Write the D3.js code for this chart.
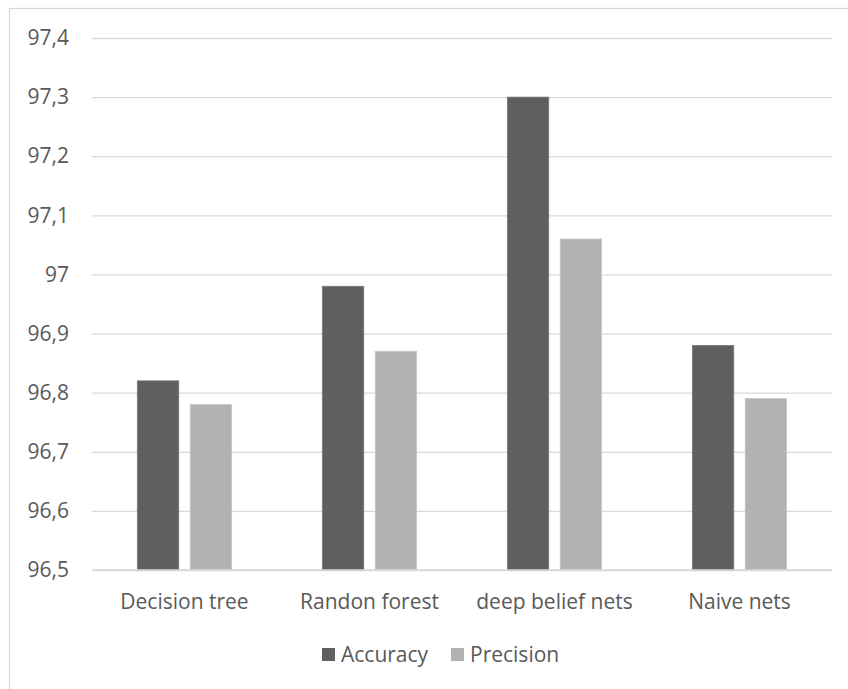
<!DOCTYPE html>
<html>
<head>
<meta charset="utf-8">
<script src="https://cdn.jsdelivr.net/npm/d3@7"></script>
<style>
  body { margin: 0; background: #fff; }
  text { font-family: "Liberation Sans Narrow", "Open Sans", sans-serif; fill: #595959; }
</style>
</head>
<body>
<div id="chart"></div>
<script>
const categories = ["Decision tree", "Randon forest", "deep belief nets", "Naive nets"];
const seriesNames = ["Accuracy", "Precision"];
const accuracy = [96.82, 96.98, 97.3, 96.88];
const precision = [96.78, 96.87, 97.06, 96.79];
const yTicks = [96.5, 96.6, 96.7, 96.8, 96.9, 97, 97.1, 97.2, 97.3, 97.4];
const colors = ["#5f5f5f", "#b2b2b2"];
const strokes = ["#7a7a7a", "#c8c8c8"];

const W = 848, H = 689;
const plotLeft = 92, plotRight = 832, plotTop = 38, plotBottom = 570;

const svg = d3.select("#chart").append("svg")
  .attr("width", W).attr("height", H);

// chart border
svg.append("rect")
  .attr("x", 9.5).attr("y", 8.5)
  .attr("width", W + 10).attr("height", H + 10)
  .attr("fill", "none").attr("stroke", "#d9d9d9").attr("stroke-width", 1.3);

const y = d3.scaleLinear().domain([96.5, 97.4]).range([plotBottom, plotTop]);
const x0 = d3.scaleBand().domain(categories).range([plotLeft, plotRight])
  .paddingInner(0.49).paddingOuter(0.245);
const x1 = d3.scaleBand().domain(seriesNames).range([0, x0.bandwidth()])
  .paddingInner(0.217);

// gridlines + tick labels
const yAxis = svg.append("g")
  .attr("transform", `translate(${plotLeft},0)`)
  .call(d3.axisLeft(y).tickValues(yTicks).tickSize(-(plotRight - plotLeft))
    .tickFormat(d => String(d).replace(".", ",")));
yAxis.select(".domain").remove();
yAxis.selectAll(".tick line").attr("stroke", "#d9d9d9").attr("stroke-width", 1.3);
yAxis.selectAll(".tick text").attr("x", -23).attr("font-size", 21).style("fill", "#595959");

const data = categories.map((c, i) => ({ cat: c, values: [accuracy[i], precision[i]] }));

svg.append("g").selectAll("g")
  .data(data)
  .enter().append("g")
  .attr("transform", d => `translate(${x0(d.cat)},0)`)
  .selectAll("rect")
  .data(d => d.values.map((v, j) => ({ name: seriesNames[j], v, j })))
  .enter().append("rect")
  .attr("x", d => x1(d.name))
  .attr("y", d => y(d.v))
  .attr("width", x1.bandwidth())
  .attr("height", d => y(96.5) - y(d.v))
  .attr("fill", d => colors[d.j])
  .attr("stroke", d => strokes[d.j])
  .attr("stroke-width", 0.8);

// baseline redraw over bars
svg.append("line")
  .attr("x1", plotLeft).attr("x2", plotRight)
  .attr("y1", y(96.5)).attr("y2", y(96.5))
  .attr("stroke", "#d9d9d9").attr("stroke-width", 1.3);

// category labels
const xAxis = svg.append("g")
  .attr("transform", `translate(0,${plotBottom})`)
  .call(d3.axisBottom(x0).tickSize(0));
xAxis.select(".domain").remove();
xAxis.selectAll(".tick text").attr("dy", 0).attr("y", 39)
  .attr("font-size", 21).style("fill", "#595959");

// legend
const legendX = [322, 451];
const legend = svg.append("g");
seriesNames.forEach((s, i) => {
  legend.append("rect")
    .attr("x", legendX[i]).attr("y", 648)
    .attr("width", 13).attr("height", 13)
    .attr("fill", colors[i]);
  legend.append("text")
    .attr("x", legendX[i] + 19).attr("y", 662)
    .attr("font-size", 21)
    .text(s);
});
</script>
</body>
</html>
